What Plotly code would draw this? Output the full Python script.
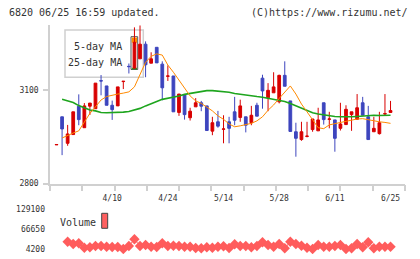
import plotly.graph_objects as go

# ---------------- data ----------------
days = list(range(61))
date_ticks = [10, 20, 30, 40, 50, 60]
date_labels = ["4/10", "4/24", "5/14", "5/28", "6/11", "6/25"]

opens = [2924, 3014, 2929, 2957, 3048, 2979, 3048, 3040, 3130, 3113,
         3051, 3049, 3127, 3176, 3170, 3200, 3247, 3186, 3237, 3183,
         3144, 3145, 3028, 3084, 3011, 3046, 3059, 3049, 2968, 2998,
         2974, 2998, 3030, 3012, 3014, 2995, 3051, 3138, 3075, 3091,
         3062, 3147, 3065, 2966, 2941, 2951, 2973, 2969, 3059, 3006,
         3004, 2977, 2989, 3021, 3006, 3059, 3014, 2966, 2960, 3023,
         3028]
highs = [2925, 3014, 2988, 3030, 3086, 3058, 3058, 3122, 3148, 3113,
         3066, 3110, 3128, 3185, 3301, 3307, 3256, 3221, 3237, 3192,
         3179, 3145, 3087, 3084, 3043, 3074, 3065, 3049, 3014, 3033,
         3019, 3014, 3078, 3069, 3014, 3049, 3059, 3149, 3122, 3157,
         3149, 3192, 3065, 2995, 2998, 2998, 3007, 3043, 3059, 3030,
         3004, 3059, 3051, 3030, 3087, 3078, 3049, 3014, 3030, 3087,
         3065]
lows = [2924, 2891, 2921, 2957, 2987, 2979, 3020, 3040, 3083, 3051,
        3004, 3049, 3103, 3153, 3170, 3200, 3141, 3186, 3187, 3067,
        3129, 3030, 3017, 3005, 3002, 3046, 3032, 2970, 2955, 2979,
        2929, 2929, 2987, 2998, 2964, 2987, 3016, 3040, 3032, 3091,
        3057, 3112, 2967, 2886, 2937, 2948, 2966, 2969, 2989, 2977,
        2902, 2970, 2989, 2969, 3006, 3019, 2941, 2966, 2957, 3020,
        3028]
closes = [2925, 2975, 2959, 3030, 3005, 3049, 3058, 3122, 3129, 3051,
          3037, 3110, 3128, 3175, 3253, 3247, 3181, 3200, 3187, 3107,
          3145, 3030, 3087, 3021, 3032, 3059, 3048, 2970, 2995, 2984,
          2975, 2977, 3003, 3049, 2987, 3019, 3016, 3097, 3099, 3110,
          3147, 3112, 2967, 2945, 2966, 2952, 3007, 3004, 3005, 3007,
          2945, 2991, 3038, 3030, 3043, 3019, 2941, 2977, 2995, 3024,
          3034]

ma5 = [None,
       2946, 2955, 2962, 2969, 2995, 3025, 3046, 3068, 3079, 3084,
       3087, 3090, 3094, 3110, 3148, 3189, 3208, 3216, 3212, 3180,
       3157, 3132, 3108, 3081, 3065, 3057, 3045, 3033, 3017, 3006,
       2991, 2982, 2985, 2988, 2993, 3001, 3014, 3035, 3052, 3073,
       3094, 3113, 3087, 3055, 3030, 3003, 2979, 2976, 2988, 2992,
       2996, 2998, 3003, 3007, 3008, 3004, 3001, 2998, 2996, 2993]
ma25 = [None,
        3070, 3066, 3060, 3050, 3043, 3036, 3033, 3028, 3027, 3027,
        3027, 3029, 3031, 3036, 3041, 3049, 3055, 3063, 3070, 3073,
        3078, 3081, 3086, 3089, 3093, 3096, 3098, 3098, 3097, 3096,
        3093, 3089, 3086, 3083, 3081, 3079, 3077, 3074, 3071, 3068,
        3063, 3057, 3049, 3041, 3033, 3027, 3023, 3020, 3018, 3015,
        3014, 3013, 3014, 3015, 3017, 3019, 3019, 3018, 3018, 3019]

vol_days = list(range(2, 61))
volume = [27900, 20700, 22900, 9200, 10400, 14500, 14500, 12300, 11400,
          11400, 5100, 14500, 35400, 14500, 17600, 12300, 11400, 22900, 14500,
          15400, 14500, 12300, 12300, 8300, 7300, 10400, 9200, 12300, 13600,
          8300, 19800, 14500, 14500, 10400, 14500, 26100, 17600, 12300, 20700,
          7300, 27900, 20700, 15400, 9200, 5100, 17600, 12300, 12300, 14500,
          17600, 5100, 7300, 20700, 10400, 26100, 7300, 12300, 12300, 12300]

price_ticks = [2800, 3100]
vol_ticks = [4200, 66650, 129100]

# ---------------- layout helpers ----------------
W, H = 420, 259
ML, MR, MT, MB = 50, 15, 25, 5
PW = W - ML - MR
PH = H - MT - MB
PLOT_BOTTOM = H - MB


def fx(px):
    return (px - ML) / PW


def fy(py):
    return (PLOT_BOTTOM - py) / PH


# pixel calibration of the two panels
PRICE_TOP_PX, PRICE_BOT_PX = MT, 183.5
P_LO_PX, P_HI_PX = 183.5, 90.0          # pixel rows of 2800 and 3100
p_per_px = (price_ticks[1] - price_ticks[0]) / (P_LO_PX - P_HI_PX)
price_range = [price_ticks[0] - (PRICE_BOT_PX - P_LO_PX) * p_per_px,
               price_ticks[0] + (P_LO_PX - PRICE_TOP_PX) * p_per_px]

VOL_TOP_PX = 204.0
V_LO_PX, V_HI_PX = 249.3, 209.3          # pixel rows of 4200 and 129100
v_per_px = (vol_ticks[2] - vol_ticks[0]) / (V_LO_PX - V_HI_PX)
vol_range = [vol_ticks[0] - (PLOT_BOTTOM - V_LO_PX) * v_per_px,
             vol_ticks[0] + (V_LO_PX - VOL_TOP_PX) * v_per_px]

FONT = "DejaVu Sans Mono"
RED = "#d80000"
BLUE = "#3d45be"
ORANGE = "#ff8a00"
GREEN = "#1ea51e"
VCOL = "#ff5c5c"
AXC = "#d0d0d0"
TXT = "#333333"

X_RANGE = [-1.17, 62.6]
tick_step = (X_RANGE[1] - X_RANGE[0]) / 11

fig = go.Figure()
fig.add_trace(go.Scatter(x=days, y=ma25, mode="lines",
                         line=dict(color=GREEN, width=1.6),
                         xaxis="x", yaxis="y", hoverinfo="skip"))
fig.add_trace(go.Scatter(x=days, y=ma5, mode="lines",
                         line=dict(color=ORANGE, width=1),
                         xaxis="x", yaxis="y", hoverinfo="skip"))
fig.add_trace(go.Candlestick(
    x=days, open=opens, high=highs, low=lows, close=closes,
    increasing=dict(line=dict(color=RED, width=1), fillcolor=RED),
    decreasing=dict(line=dict(color=BLUE, width=1), fillcolor=BLUE),
    whiskerwidth=0, xaxis="x", yaxis="y"))
fig.add_trace(go.Scatter(x=vol_days, y=volume, mode="lines+markers",
                         line=dict(color=VCOL, width=1),
                         marker=dict(symbol="diamond", size=8, color=VCOL),
                         xaxis="x2", yaxis="y2"))

fig.update_layout(
    width=W, height=H, autosize=False,
    margin=dict(l=ML, r=MR, t=MT, b=MB, pad=0, autoexpand=False),
    paper_bgcolor="white", plot_bgcolor="white",
    showlegend=False,
    font=dict(family=FONT, size=8, color=TXT),
    xaxis=dict(domain=[0, 1], anchor="y", range=X_RANGE, automargin=False,
               showline=True, linecolor=AXC, linewidth=1.5,
               showgrid=False, zeroline=False,
               tickmode="array", tickvals=date_ticks, ticktext=date_labels,
               ticks="", ticklabelstandoff=6,
               tickfont=dict(family=FONT, size=8, color=TXT),
               rangeslider=dict(visible=False),
               minor=dict(ticks="outside", ticklen=6, tickwidth=1.5,
                          tickcolor=AXC, tickmode="linear",
                          tick0=X_RANGE[0], dtick=tick_step, showgrid=False)),
    yaxis=dict(domain=[fy(PRICE_BOT_PX), 1], anchor="x", range=price_range,
               automargin=False,
               showline=True, linecolor=AXC, linewidth=1.5,
               showgrid=False, zeroline=False,
               tickmode="array", tickvals=price_ticks,
               ticks="outside", ticklen=5, tickwidth=1.5, tickcolor=AXC,
               ticklabelstandoff=3,
               tickfont=dict(family=FONT, size=8, color=TXT)),
    xaxis2=dict(domain=[0, 1], anchor="y2", range=X_RANGE, visible=False,
                automargin=False, rangeslider=dict(visible=False)),
    yaxis2=dict(domain=[0, fy(VOL_TOP_PX)], anchor="x2", range=vol_range,
                automargin=False,
                showline=False, showgrid=False, zeroline=False,
                tickmode="array", tickvals=vol_ticks,
                ticktext=[str(v) for v in vol_ticks],
                ticks="", ticklabelstandoff=4,
                tickfont=dict(family=FONT, size=8, color=TXT)),
)

shapes = [
    dict(type="rect", xref="paper", yref="paper",
         x0=fx(65), x1=fx(143.3), y0=fy(77.3), y1=fy(30),
         line=dict(color=AXC, width=1.5), fillcolor="white", layer="below"),
    dict(type="rect", xref="paper", yref="paper",
         x0=fx(131), x1=fx(137.7), y0=fy(69.5), y1=fy(36.7),
         line=dict(color="#555555", width=1), fillcolor="white", layer="below"),
    dict(type="rect", xref="paper", yref="paper",
         x0=fx(131.7), x1=fx(137), y0=fy(42.7), y1=fy(37.5),
         line=dict(width=0), fillcolor=ORANGE, layer="below"),
    dict(type="rect", xref="paper", yref="paper",
         x0=fx(131.7), x1=fx(137), y0=fy(69.3), y1=fy(67.8),
         line=dict(width=0), fillcolor=GREEN, layer="below"),
    dict(type="rect", xref="paper", yref="paper",
         x0=fx(101.7), x1=fx(107.7), y0=fy(228.3), y1=fy(213.3),
         line=dict(color="#444444", width=1), fillcolor="#ff6060"),
]
fig.update_layout(shapes=shapes)

ann_font = dict(family=FONT, size=10, color=TXT)
annotations = [
    dict(text="6820 06/25 16:59 updated.", x=fx(7), y=fy(12.5),
         xanchor="left", yanchor="middle"),
    dict(text="(C)https://www.rizumu.net/", x=fx(409.5), y=fy(12.5),
         xanchor="right", yanchor="middle"),
    dict(text="5-day MA", x=fx(123.5), y=fy(46),
         xanchor="right", yanchor="middle"),
    dict(text="25-day MA", x=fx(123.5), y=fy(62.7),
         xanchor="right", yanchor="middle"),
    dict(text="Volume", x=fx(58), y=fy(222.3),
         xanchor="left", yanchor="middle"),
]
for a in annotations:
    a.update(xref="paper", yref="paper", showarrow=False, font=ann_font)
fig.update_layout(annotations=annotations)

fig.write_html("out.html")
